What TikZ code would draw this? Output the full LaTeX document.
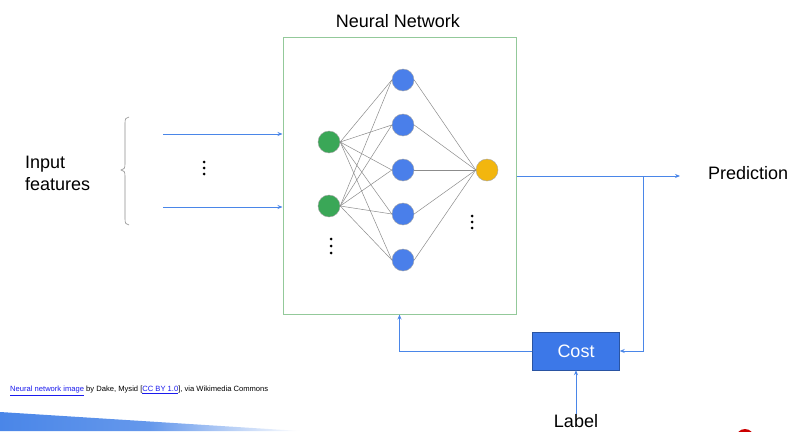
\documentclass[tikz,border=0pt]{standalone}
\usepackage{fontspec}
\setmainfont{Liberation Sans}
\usetikzlibrary{arrows.meta,calc}
\definecolor{gblue}{HTML}{4A86E8}
\definecolor{ngreen}{HTML}{3AA757}
\definecolor{nblue}{HTML}{4A7FEA}
\definecolor{nyellow}{HTML}{F2B60E}
\definecolor{boxgreen}{HTML}{93C99A}
\definecolor{costblue}{HTML}{3C78E8}
\definecolor{linkblue}{HTML}{1A1AEE}
\tikzset{
  neuron/.style={circle, minimum size=22pt, inner sep=0pt, draw=black!35, line width=0.4pt},
  edge/.style={draw=black!45, line width=0.5pt},
  arr/.style={draw=gblue, line width=0.8pt, -{Stealth[length=5pt,width=4pt]}},
  lbl/.style={font=\fontsize{18}{21}\selectfont, inner sep=0pt},
  dot/.style={circle, fill=black, minimum size=3pt, inner sep=0pt},
}
\begin{document}
\begin{tikzpicture}[x=1pt,y=-1pt]
\useasboundingbox (0,0) rectangle (797,431);
\fill[white] (0,0) rectangle (797,431);

% box and title
\node[draw=boxgreen, line width=1pt, minimum width=233pt, minimum height=277pt, inner sep=0pt] (nn) at (399.5,175.5) {};
\node[lbl] (title) at (398,21) {Neural Network};

% neurons
\node[neuron, fill=ngreen] (g1) at (329,142) {};
\node[neuron, fill=ngreen] (g2) at (329,206) {};
\foreach \i/\y in {1/80,2/125,3/170,4/214,5/260}
  \node[neuron, fill=nblue] (b\i) at (403,\y) {};
\node[neuron, fill=nyellow] (y1) at (487,170) {};

% edges
\foreach \g in {g1,g2}
  \foreach \i in {1,...,5}
    \draw[edge] (\g.east) -- (b\i.west);
\foreach \i in {1,...,5}
  \draw[edge] (b\i.east) -- (y1.west);

% dots
\foreach \y in {239,246,253} \node[dot] at (331,\y) {};
\foreach \y in {216,222,228} \node[dot] at (472,\y) {};
\foreach \y in {162,168,174} \node[dot] at (204,\y) {};

% input side
\node[lbl, anchor=north west, align=left] (inp) at (25,156) {Input\\[1pt]features};
\draw[black!45, line width=0.6pt] (129,117) .. controls (126,117) and (125,119) .. (125,123) -- (125,164)
  .. controls (125,168) and (124,170) .. (121,170) .. controls (124,170) and (125,172) .. (125,176)
  -- (125,219) .. controls (125,223) and (126,225) .. (129,225);
\coordinate (in1) at (163,134);
\coordinate (in2) at (163,207);
\draw[arr] (in1) -- (in1 -| nn.west);
\draw[arr] (in2) -- (in2 -| nn.west);

% output side
\coordinate (pred) at (680,176);
\coordinate (split) at (643,176);
\node[lbl, anchor=west] (predtxt) at (708,173) {Prediction};
\draw[arr] (nn.east |- pred) -- (pred);

% cost
\node[fill=costblue, draw=costblue!70!black, line width=0.4pt, minimum width=87pt, minimum height=38pt, inner sep=0pt,
  text=white, font=\fontsize{18}{21}\selectfont] (cost) at (576,351) {Cost};
\draw[arr] (split) |- (cost.east);
\draw[arr] (cost.west) -| (nn.south);
\node[lbl, anchor=north] (label) at (576,414) {Label};
\draw[arr] (label.north) -- (cost.south);

% attribution
\node[anchor=west, inner sep=0pt, font=\fontsize{7.6}{9}\selectfont] (attr) at (10,391)
  {\textcolor{linkblue}{\underline{Neural network image}} by Dake, Mysid [\textcolor{linkblue}{\underline{CC BY 1.0}}], via Wikimedia Commons};

% slide decorations
\shade[left color=gblue, right color=white, middle color=gblue!85] (0,412) -- (300,431) -- (0,431) -- cycle;
\fill[red!80!black] (745,438) circle (9);
\end{tikzpicture}
\end{document}
